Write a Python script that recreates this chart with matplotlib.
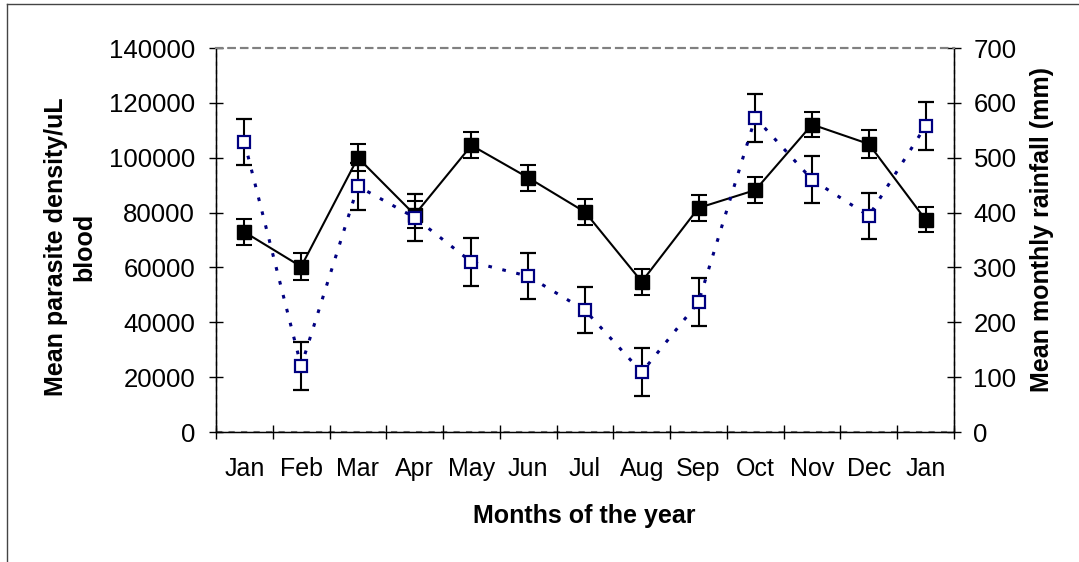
import matplotlib.pyplot as plt
from matplotlib.lines import Line2D

plt.rcParams['font.family'] = ['Liberation Sans', 'DejaVu Sans']

# Months shown along the x axis
months = ['Jan', 'Feb', 'Mar', 'Apr', 'May', 'Jun', 'Jul', 'Aug', 'Sep',
          'Oct', 'Nov', 'Dec', 'Jan']

# Mean parasite density per uL blood (left axis) and its error
density = [72900, 60300, 100000, 79200, 104500, 92700, 80200, 54800,
           81700, 88200, 112100, 105000, 77400]
density_err = [4700, 4800, 5000, 4900, 4700, 4800, 4700, 4700,
               4800, 4600, 4700, 5000, 4600]

# Mean monthly rainfall in mm (right axis) and its error
rainfall = [529, 120, 448, 391, 310, 284, 222, 109, 237, 573, 460, 394, 558]
rainfall_err = [42, 44, 43, 42, 44, 42, 42, 44, 43, 44, 43, 42, 44]

x = list(range(len(months)))

fig = plt.figure(figsize=(10.79, 5.62), dpi=100)
ax = fig.add_axes([216 / 1079, 1 - 432 / 562, (954 - 216) / 1079, (432 - 48) / 562])
ax2 = ax.twinx()

# density series: black filled squares, solid line
ax.errorbar(x, density, yerr=density_err, color='black', lw=1.5,
            marker='s', ms=9.5, mfc='black', mec='black',
            ecolor='black', elinewidth=1.5, capsize=5.5, capthick=1.5, zorder=3)

# rainfall series: navy open squares, dotted line
ax2.errorbar(x, rainfall, yerr=rainfall_err, color='#000080', lw=2.2,
             ls=(0, (1.2, 3.5)), marker='s', ms=8.5, mfc='white', mec='#000080',
             mew=1.6, ecolor='black', elinewidth=1.5, capsize=5.5, capthick=1.5,
             zorder=3)

ax.set_xlim(-0.5, len(months) - 0.5)
ax.set_ylim(0, 140000)
ax2.set_ylim(0, 700)

# x ticks at the category edges, labels in the middle
ax.set_xticks([i - 0.5 for i in range(len(months) + 1)])
ax.set_xticklabels([])
ax.set_xticks(x, minor=True)
ax.set_xticklabels(months, minor=True)
ax.tick_params(axis='x', which='major', direction='inout', length=10, width=1)
ax.tick_params(axis='x', which='minor', length=0, pad=18, labelsize=18)

ax.set_yticks(range(0, 140001, 20000))
ax.tick_params(axis='y', direction='inout', length=10, width=1, pad=10, labelsize=18.5)
ax2.set_yticks(range(0, 701, 100))
ax2.tick_params(axis='y', direction='inout', length=10, width=1, pad=9, labelsize=18.5)

for a in (ax, ax2):
    a.spines['top'].set_linestyle((0, (3, 3)))
    a.spines['top'].set_color('gray')
    a.spines['top'].set_linewidth(1.5)
ax.spines['left'].set_linewidth(1)
ax.spines['bottom'].set_linewidth(1)
ax2.spines['right'].set_linewidth(1)
ax.patch.set_visible(False)

# gray dashed plot area border alongside the axis lines
ax.axhline(0, color='gray', ls=(0, (3, 3)), lw=1.5, zorder=1, clip_on=False)
ax.axvline(-0.5, color='gray', ls=(0, (3, 3)), lw=1, zorder=1, clip_on=False)
ax.axvline(len(months) - 0.5, color='gray', ls=(0, (3, 3)), lw=1, zorder=1, clip_on=False)

fig.text(70 / 1079, 1 - 247 / 562, 'Mean parasite density/uL\nblood', rotation=90,
         ha='center', va='center', fontsize=18, fontweight='bold', multialignment='center')
fig.text(1042 / 1079, 1 - 230 / 562, 'Mean monthly rainfall (mm)', rotation=90,
         ha='center', va='center', fontsize=18, fontweight='bold')
fig.text(584 / 1079, 1 - 516 / 562, 'Months of the year',
         ha='center', va='center', fontsize=18, fontweight='bold')

# outer chart border (top and left edges visible)
fig.add_artist(Line2D([7 / 1079, 7 / 1079], [0, 1 - 4 / 562], color='#444444', lw=1))
fig.add_artist(Line2D([7 / 1079, 1], [1 - 4 / 562, 1 - 4 / 562], color='#444444', lw=1))

fig.savefig('out.png', dpi=100)
